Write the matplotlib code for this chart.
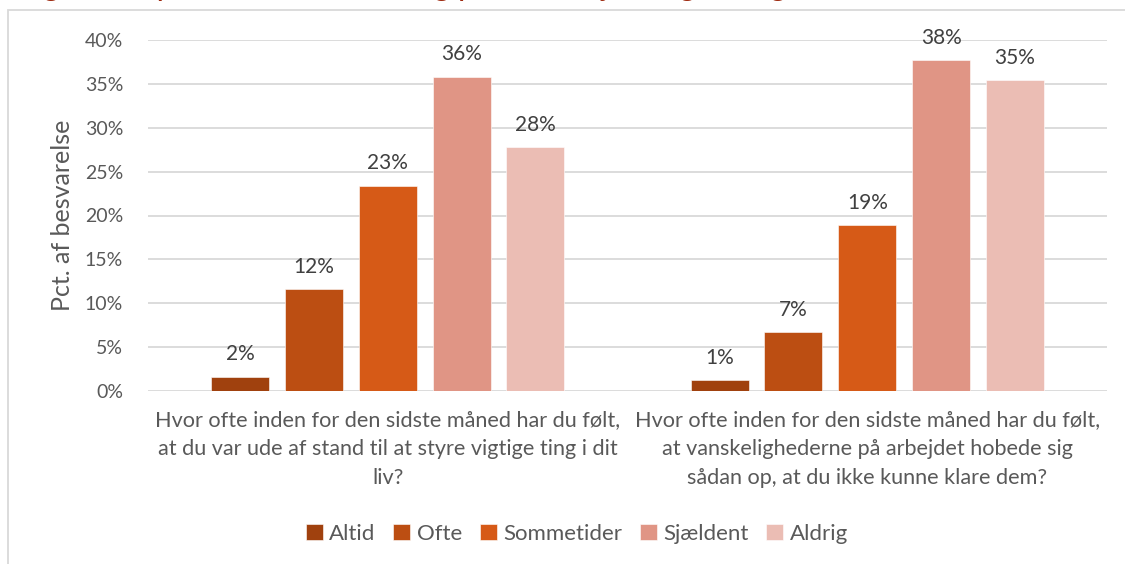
import matplotlib
matplotlib.use("Agg")
import matplotlib.pyplot as plt
import matplotlib.patches as mpatches
import numpy as np

plt.rcParams.update({
    'font.family': ['Lato', 'DejaVu Sans'],
    'font.size': 14,
})

# data
questions = [
    'Hvor ofte inden for den sidste måned har du følt,\nat du var ude af stand til at styre vigtige ting i dit\nliv?',
    'Hvor ofte inden for den sidste måned har du følt,\nat vanskelighederne på arbejdet hobede sig\nsådan op, at du ikke kunne klare dem?',
]
answers = ['Altid', 'Ofte', 'Sommetider', 'Sjældent', 'Aldrig']
altid = [1.6, 1.2]
ofte = [11.6, 6.7]
sommetider = [23.4, 18.9]
sjaeldent = [35.8, 37.7]
aldrig = [27.8, 35.4]
series = [altid, ofte, sommetider, sjaeldent, aldrig]

COLORS = ['#A0410E', '#BC4E12', '#D65A17', '#E09585', '#EBBDB4']
TXT = '#595959'

fig = plt.figure(figsize=(11.25, 5.64), dpi=100)
ax = fig.add_axes([148 / 1125, 1 - 391 / 564, (1107 - 148) / 1125, (391 - 40) / 564])

# chart frame and the title that is cut off at the top
fig.patches.append(mpatches.Rectangle((8 / 1125, -0.1), 1.1, 1.1 - 10 / 564,
                                      transform=fig.transFigure, fill=False,
                                      edgecolor='#D9D9D9', linewidth=1.3))
fig.text(20 / 1125, 1 + 5 / 564, 'Figur 9: Oplevelse af kontrol og pres i arbejdet og livet generelt',
         color='#9E2A10', style='italic', fontsize=24, va='baseline', ha='left')

x = np.arange(len(questions))
w = 0.121
step = 0.154
for i, (vals, name, col) in enumerate(zip(series, answers, COLORS)):
    bars = ax.bar(x + (i - 2) * step, np.array(vals) / 100, w, color=col, label=name,
                  edgecolor='white', linewidth=0.4, zorder=3)
    for b, v in zip(bars, vals):
        ax.annotate(f'{v:.0f}%', (b.get_x() + b.get_width() / 2, b.get_height()),
                    xytext=(0, 9), textcoords='offset points', ha='center', va='bottom',
                    color='#404040', fontsize=15)

ax.set_xlim(-0.5, 1.5)
ax.set_ylim(0, 0.40)
ax.set_yticks(np.arange(0, 0.41, 0.05))
ax.set_yticklabels([f'{int(round(t * 100))}%' for t in np.arange(0, 0.41, 0.05)])
ax.yaxis.grid(True, color='#D9D9D9', linewidth=1.3, zorder=0)
for s in ax.spines.values():
    s.set_visible(False)
ax.tick_params(axis='both', length=0, colors=TXT, labelsize=14)
ax.tick_params(axis='y', pad=18)
ax.set_xticks(x)
ax.set_xticklabels(questions, linespacing=1.55, fontsize=15.6)
ax.tick_params(axis='x', pad=14)
ax.set_ylabel('Pct. af besvarelse', color=TXT, fontsize=18, labelpad=8)

leg = fig.legend(loc='center', bbox_to_anchor=(577 / 1125, 1 - 534 / 564), ncol=5,
                 frameon=False, handlelength=0.75, handleheight=0.75, handletextpad=0.3,
                 columnspacing=0.8, fontsize=16)
for t in leg.get_texts():
    t.set_color(TXT)

fig.savefig('out.png', dpi=100)
